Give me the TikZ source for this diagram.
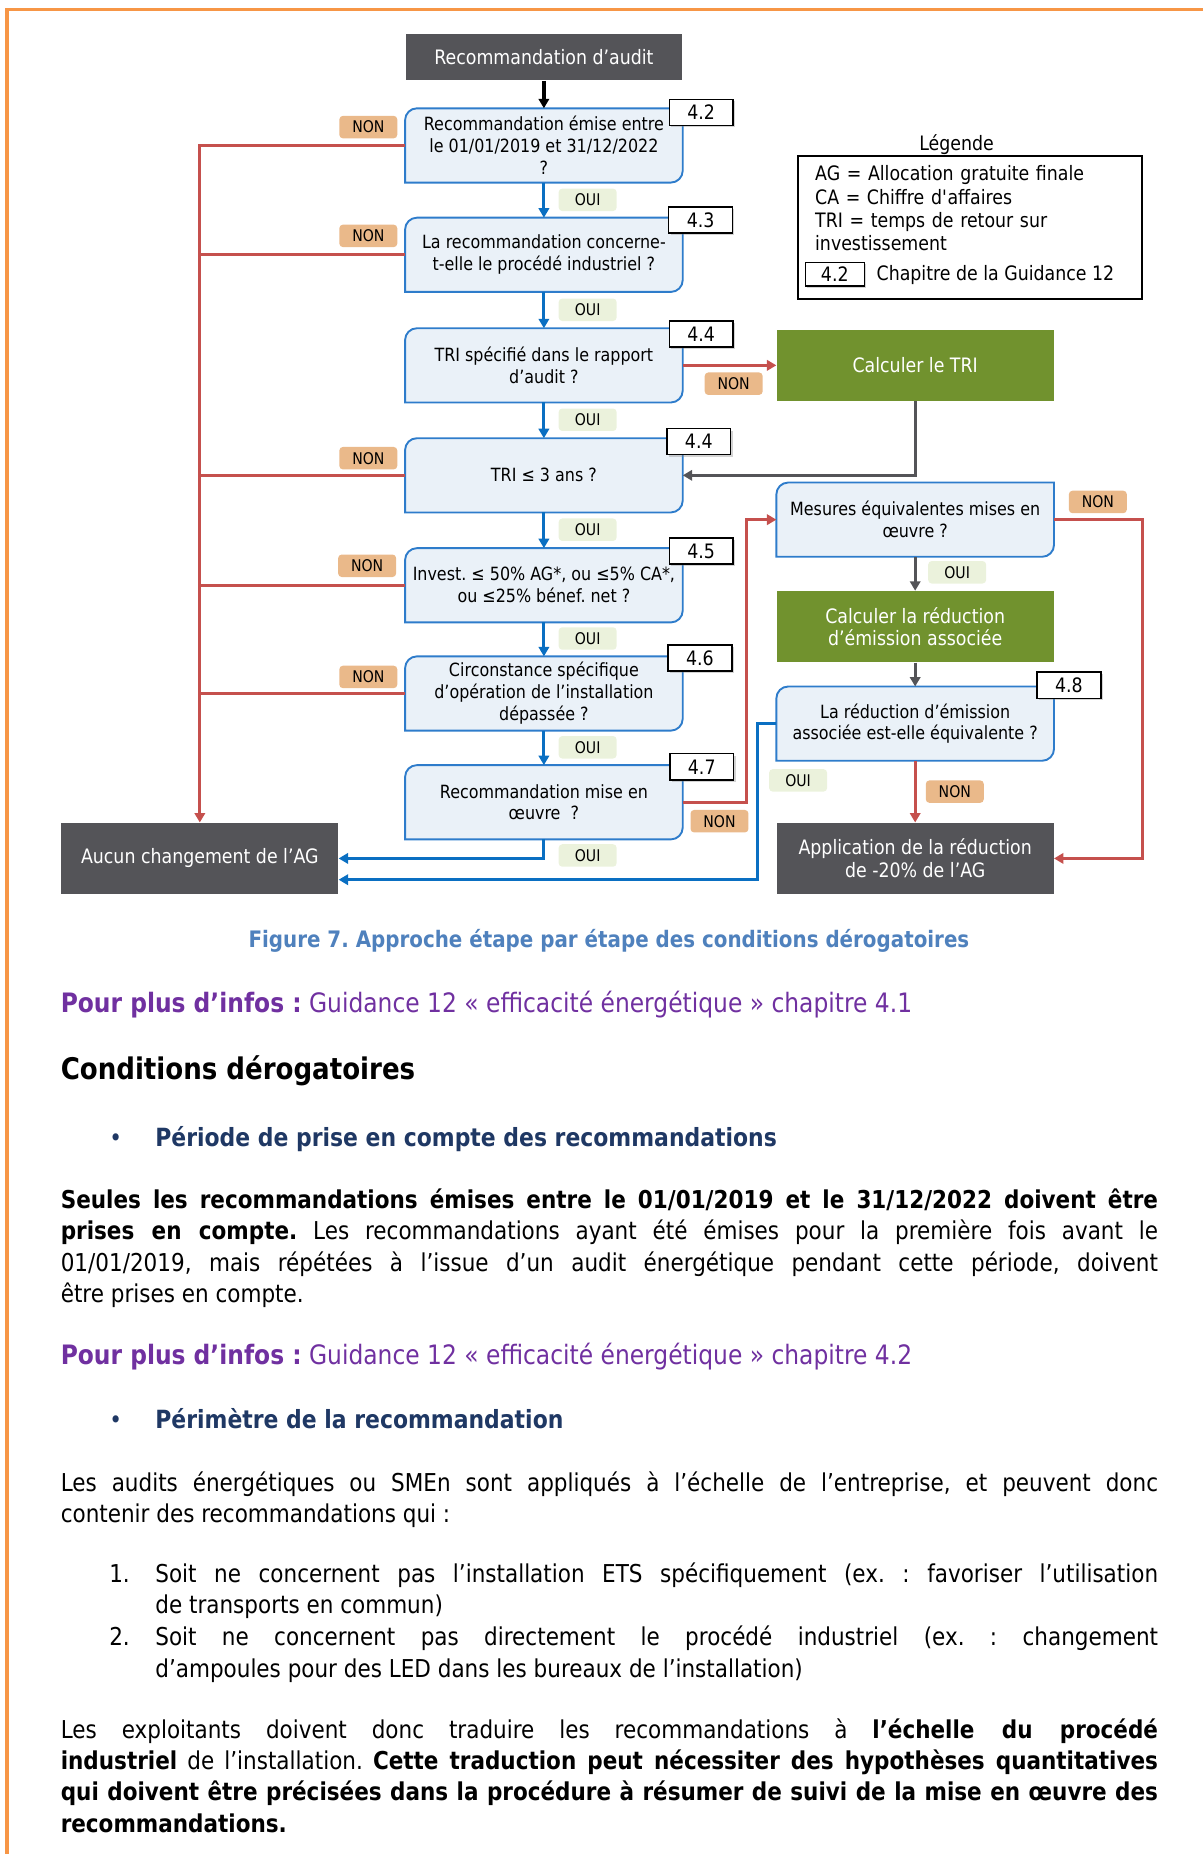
\documentclass[tikz,border=0pt]{standalone}
\usepackage{fontspec}
\setmainfont{DejaVu Sans}[FakeStretch=0.875]
\usetikzlibrary{arrows.meta,backgrounds,shadows}
\frenchspacing

\definecolor{frameorange}{HTML}{F79646}
\definecolor{boxgray}{HTML}{545458}
\definecolor{boxgreen}{HTML}{71922E}
\definecolor{qfill}{HTML}{EAF1F8}
\definecolor{qline}{HTML}{2E7CCB}
\definecolor{ouiblue}{HTML}{0A6FC2}
\definecolor{nonred}{HTML}{C5504D}
\definecolor{nonfill}{HTML}{EAB98A}
\definecolor{ouifill}{HTML}{EBF2DC}
\definecolor{capblue}{HTML}{4F81BD}
\definecolor{infopurple}{HTML}{7030A0}
\definecolor{headnavy}{HTML}{1F3864}

\newcommand\boxfont{\fontsize{7.7}{9.25}\selectfont}
\newcommand\bigboxfont{\fontsize{8.4}{9.6}\selectfont}
\newcommand\legfont{\fontsize{8.4}{9.85}\selectfont}
\newcommand\tagfont{\fontsize{6.8}{8}\selectfont}
\newcommand\bodyfont{\fontsize{10.4}{13.25}\selectfont}
\newcommand\infofont{\fontsize{11.3}{13.25}\selectfont}
\newcommand\headfont{\fontsize{12.6}{15}\selectfont\bfseries}
\newcommand\captfont{\fontsize{9.6}{11}\selectfont\bfseries}

% question box: round top-left and bottom-right corners
\newcommand\qshape[1]{%
  \filldraw[qbox] ([xshift=5pt]#1.north west) -- (#1.north east)
    -- ([yshift=5pt]#1.south east) arc[start angle=0, end angle=-90, radius=5pt]
    -- (#1.south west) -- ([yshift=-5pt]#1.north west)
    arc[start angle=180, end angle=90, radius=5pt] -- cycle;}

\begin{document}
\begin{tikzpicture}[x=0.5pt, y=-0.5pt,
    >={Triangle[length=4pt,width=4.4pt]},
    quest/.style={minimum width=117pt, minimum height=31pt, inner sep=1pt, align=center, font=\boxfont},
    qbox/.style={fill=qfill, draw=qline, line width=0.8pt},
    darkbox/.style={fill=boxgray, text=white, minimum width=117pt, minimum height=30pt, inner sep=1pt, align=center, font=\bigboxfont},
    greenbox/.style={darkbox, fill=boxgreen},
    chap/.style={draw, fill=white, line width=0.6pt, minimum width=27pt, minimum height=11pt, inner sep=0pt, font=\bigboxfont,
      drop shadow={shadow xshift=0.8pt, shadow yshift=-0.8pt, opacity=0.35}},
    non/.style={fill=nonfill, rounded corners=1.5pt, minimum width=24.5pt, minimum height=9.5pt, inner sep=0pt, font=\tagfont},
    oui/.style={non, fill=ouifill},
    nonline/.style={draw=nonred, line width=1.2pt},
    ouiline/.style={draw=ouiblue, line width=1.2pt},
    darkline/.style={draw=boxgray, line width=1.2pt},
    para/.style={anchor=base west, inner sep=0pt, font=\bodyfont, align=justify}]
  \useasboundingbox (0,0) rectangle (1017,1568);

  % page frame
  \draw[frameorange, line width=1.6pt] (6,1568) -- (6,8) -- (1017,8);

  % main column
  \node[darkbox, minimum height=19.5pt] (top) at (460,48.5) {Recommandation d’audit};
  \node[quest] (q42) at (460,123) {Recommandation émise entre\\le 01/01/2019 et 31/12/2022\\?};
  \node[quest] (q43) at (460,215.5) {La recommandation concerne-\\t-elle le procédé industriel ?};
  \node[quest] (q44a) at (460,309) {TRI spécifié dans le rapport\\d’audit ?};
  \node[quest] (q44b) at (460,402) {TRI ≤ 3 ans ?};
  \node[quest] (q45) at (460,495) {Invest. ≤ 50\% AG*, ou ≤5\% CA*,\\ou ≤25\% bénef. net ?};
  \node[quest] (q46) at (460,586.5) {Circonstance spécifique\\d’opération de l’installation\\dépassée ?};
  \node[quest] (q47) at (460,678.5) {Recommandation mise en\\œuvre~ ?};
  \node[darkbox] (aucun) at (169,726) {Aucun changement de l’AG};

  % right column
  \node[greenbox] (calctri) at (774,309) {Calculer le TRI};
  \node[quest] (mesures) at (774,439.5) {Mesures équivalentes mises en\\œuvre ?};
  \node[greenbox] (calcred) at (774,530) {Calculer la réduction\\d’émission associée};
  \node[quest] (q48) at (774,612) {La réduction d’émission\\associée est-elle équivalente ?};
  \node[darkbox] (applic) at (774,726) {Application de la réduction\\de -20\% de l’AG};

  \begin{scope}[on background layer]
    \foreach \n in {q42,q43,q44a,q44b,q45,q46,q47,mesures,q48}
      \qshape{\n};
  \end{scope}

  % connectors
  \draw[line width=1.4pt, ->] (top) -- (q42);
  \draw[ouiline, ->] (q42) -- (q43);
  \draw[ouiline, ->] (q43) -- (q44a);
  \draw[ouiline, ->] (q44a) -- (q44b);
  \draw[ouiline, ->] (q44b) -- (q45);
  \draw[ouiline, ->] (q45) -- (q46);
  \draw[ouiline, ->] (q46) -- (q47);
  \draw[ouiline, ->] (q47.south) |- (aucun.east);
  \draw[ouiline, ->] (q48.west) -- ++(-16,0) |- ([yshift=-9pt]aucun.east);

  \draw[nonline, ->] (q42.west) -| (aucun.north);
  \foreach \n in {q43,q44b,q45,q46}
    \draw[nonline] (\n.west) -- (\n.west -| aucun.north);
  \draw[nonline, ->] (q44a) -- (calctri);
  \draw[nonline, ->] (q47.east) -- ++(54,0) |- (mesures.west);
  \draw[nonline, ->] (mesures.east) -- ++(75,0) |- (applic.east);
  \draw[nonline, ->] (q48) -- (applic);

  \draw[darkline, ->] (calctri.south) |- (q44b.east);
  \draw[darkline, ->] (mesures) -- (calcred);
  \draw[darkline, ->] (calcred) -- (q48);

  % chapter tags
  \foreach \n/\x/\y/\t in {c42/593/95/4.2, c43/592.5/186/4.3, c44a/593/282.5/4.4, c44b/591/373.5/4.4,
      c45/593/466/4.5, c46/592/556.5/4.6, c47/593.5/648.5/4.7, c48/904/579.5/4.8}
    \node[chap] (\n) at (\x,\y) {\t};

  % NON / OUI tags
  \foreach \x/\y [count=\i] in {311.5/107.5, 311.5/199.5, 620.5/324.5, 311.5/387.5, 310.5/478.5,
      311.5/572.5, 608.5/694.5, 928.5/424.5, 807.5/669.5}
    \node[non] (non\i) at (\x,\y) {NON};
  \foreach \x/\y [count=\i] in {497/169, 497/262, 497/355, 497/448, 497/540, 497/632,
      497/723.5, 809.5/484, 675/660}
    \node[oui] (oui\i) at (\x,\y) {OUI};

  % legend
  \node[font=\legfont] (legtitle) at (809,122) {Légende};
  \node[draw, line width=0.7pt, minimum width=145.5pt, minimum height=60.5pt, inner sep=0pt] (legbox) at (820.5,192.5) {};
  \node[anchor=base west, inner sep=0pt, text width=138pt, align=left, font=\legfont] (legtxt) at (689,153)
    {AG = Allocation gratuite finale\\CA = Chiffre d\textquotesingle affaires\\TRI = temps de retour sur\\investissement};
  \node[chap, minimum width=25pt, minimum height=10pt] (legchap) at (706,232) {4.2};
  \node[anchor=base west, inner sep=0pt, font=\legfont] (legchaptxt) at (741,237) {Chapitre de la Guidance 12};

  % text below
  \node[font=\captfont, text=capblue] (caption) at (515,796) {Figure 7. Approche étape par étape des conditions dérogatoires};
  \node[anchor=base west, inner sep=0pt, font=\infofont, text=infopurple] (info1) at (51,856)
    {\textbf{Pour plus d’infos :} Guidance 12 « efficacité énergétique » chapitre 4.1};
  \node[anchor=base west, inner sep=0pt, font=\headfont] (head) at (51,913) {Conditions dérogatoires};
  \node[anchor=base west, inner sep=0pt, font=\bodyfont, text=headnavy] (bul1) at (92,970) {\textbullet};
  \node[anchor=base west, inner sep=0pt, font=\fontsize{10.6}{13.25}\selectfont\bfseries, text=headnavy] (sub1) at (131,970)
    {Période de prise en compte des recommandations};
  \node[para, text width=464pt] (par1) at (51,1022)
    {\textbf{Seules les recommandations émises entre le 01/01/2019 et le 31/12/2022 doivent être}\linebreak
     \textbf{prises en compte.} Les recommandations ayant été émises pour la première fois avant le\linebreak
     01/01/2019, mais répétées à l’issue d’un audit énergétique pendant cette période, doivent\linebreak
     être prises en compte.};
  \node[anchor=base west, inner sep=0pt, font=\infofont, text=infopurple] (info2) at (51,1154)
    {\textbf{Pour plus d’infos :} Guidance 12 « efficacité énergétique » chapitre 4.2};
  \node[anchor=base west, inner sep=0pt, font=\bodyfont, text=headnavy] (bul2) at (92,1208) {\textbullet};
  \node[anchor=base west, inner sep=0pt, font=\fontsize{10.6}{13.25}\selectfont\bfseries, text=headnavy] (sub2) at (131,1208)
    {Périmètre de la recommandation};
  \node[para, text width=464pt] (par2) at (51,1261)
    {Les audits énergétiques ou SMEn sont appliqués à l’échelle de l’entreprise, et peuvent donc\linebreak
     contenir des recommandations qui :};
  \node[anchor=base west, inner sep=0pt, font=\bodyfont] (num1) at (92,1338) {1.};
  \node[para, text width=424pt] (item1) at (131,1338)
    {Soit ne concernent pas l’installation ETS spécifiquement (ex. : favoriser l’utilisation\linebreak
     de transports en commun)};
  \node[anchor=base west, inner sep=0pt, font=\bodyfont] (num2) at (92,1392) {2.};
  \node[para, text width=424pt] (item2) at (131,1392)
    {Soit ne concernent pas directement le procédé industriel (ex. : changement\linebreak
     d’ampoules pour des LED dans les bureaux de l’installation)};
  \node[para, text width=464pt] (par3) at (51,1470)
    {Les exploitants doivent donc traduire les recommandations à \textbf{l’échelle du procédé}\linebreak
     \textbf{industriel} de l’installation. \textbf{Cette traduction peut nécessiter des hypothèses quantitatives}\linebreak
     \textbf{qui doivent être précisées dans la procédure à résumer de suivi de la mise en œuvre des}\linebreak
     \textbf{recommandations.}};
\end{tikzpicture}
\end{document}
